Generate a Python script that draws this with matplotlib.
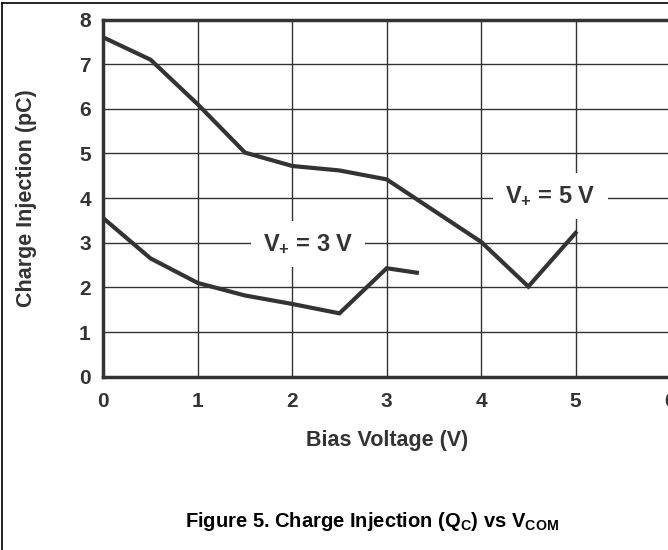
import matplotlib
matplotlib.use("Agg")
import matplotlib.pyplot as plt
from matplotlib.lines import Line2D

plt.rcParams['font.family'] = ['Liberation Sans', 'DejaVu Sans']
plt.rcParams['font.weight'] = 'bold'
plt.rcParams['mathtext.fontset'] = 'custom'
plt.rcParams['mathtext.rm'] = 'Liberation Sans:bold'
plt.rcParams['mathtext.it'] = 'Liberation Sans:bold'
plt.rcParams['mathtext.bf'] = 'Liberation Sans:bold'

# data
bias_5v = [0, 0.5, 1, 1.5, 2, 2.5, 3, 3.5, 4, 4.5, 5]
qc_5v = [7.6, 7.1, 6.1, 5.02, 4.72, 4.62, 4.42, 3.72, 3.02, 2.02, 3.22]
bias_3v = [0, 0.5, 1, 1.5, 2, 2.5, 3, 3.32]
qc_3v = [3.55, 2.65, 2.1, 1.82, 1.63, 1.42, 2.43, 2.33]
x_ticks = [0, 1, 2, 3, 4, 5, 6]
y_ticks = [0, 1, 2, 3, 4, 5, 6, 7, 8]

dark = '#333333'

fig = plt.figure(figsize=(6.68, 5.5), dpi=100)
ax = fig.add_axes([0.1547, 0.315, 0.8483, 0.6495])

ax.plot(bias_5v, qc_5v, color=dark, lw=3.0, solid_joinstyle='miter', zorder=4)
ax.plot(bias_3v, qc_3v, color=dark, lw=3.0, solid_joinstyle='miter', zorder=4)

ax.set_xlim(0, 6)
ax.set_ylim(0, 8)
ax.set_xticks(x_ticks)
ax.set_yticks(y_ticks)
ax.grid(True, color=dark, lw=1.0)
ax.set_axisbelow(True)
ax.tick_params(length=0, labelsize=15, colors=dark)
ax.tick_params(axis='x', pad=11)
ax.tick_params(axis='y', pad=9)
for lab in ax.get_xticklabels() + ax.get_yticklabels():
    lab.set_fontweight('bold')
for side in ['left', 'bottom', 'top', 'right']:
    ax.spines[side].set_color(dark)
    ax.spines[side].set_linewidth(2.5)

ax.set_xlabel('Bias Voltage (V)', fontsize=15.5, fontweight='bold', color=dark, labelpad=14)
ax.set_ylabel('Charge Injection (pC)', fontsize=15.5, fontweight='bold', color=dark, labelpad=30)

box = dict(boxstyle='square,pad=0.5', fc='white', ec='none')
ax.text(2.165, 2.975, r'V$_{+}$ = 3 V', fontsize=17, fontweight='bold', color=dark,
        ha='center', va='center', bbox=box, zorder=3)
ax.text(4.735, 4.05, r'V$_{+}$ = 5 V', fontsize=17, fontweight='bold', color=dark,
        ha='center', va='center', bbox=box, zorder=3)

fig.text(0.557, 0.051, r'Figure 5. Charge Injection (Q$_{\mathrm{C}}$) vs V$_{\mathrm{COM}}$',
         fontsize=14.5, fontweight='bold', ha='center', va='center')

# page frame (top and left edges visible)
fig.add_artist(Line2D([0.003, 1.0], [0.995, 0.995], transform=fig.transFigure, color='black', lw=1.2))
fig.add_artist(Line2D([0.003, 0.003], [0.0, 0.995], transform=fig.transFigure, color='black', lw=1.2))

fig.savefig('out.png', dpi=100)
